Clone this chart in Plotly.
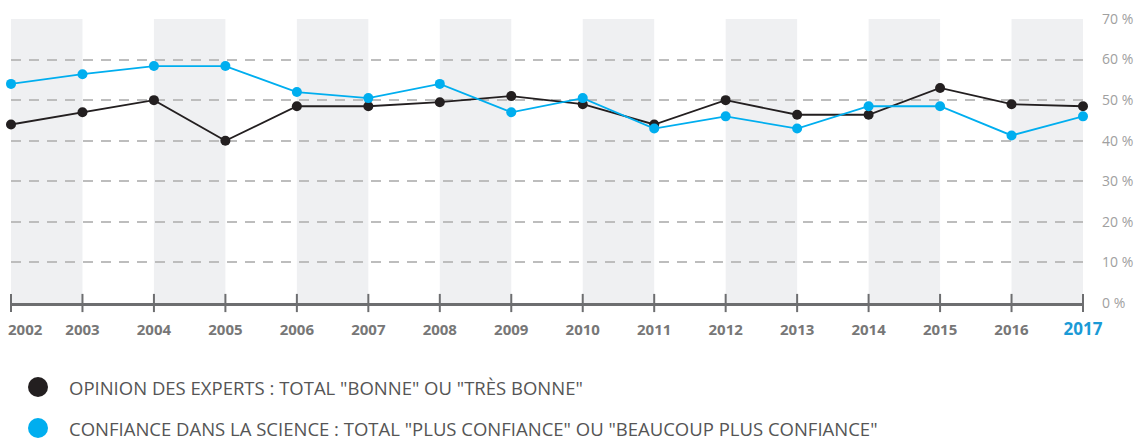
import plotly.graph_objects as go

years = list(range(2002, 2018))
experts = [44, 47, 50, 40, 48.5, 48.5, 49.5, 51, 49, 44, 50, 46.4, 46.4, 53, 49, 48.5]
science = [54, 56.4, 58.4, 58.4, 52, 50.5, 54, 47, 50.5, 43, 46, 43, 48.5, 48.5, 41.3, 46]
name_experts = 'OPINION DES EXPERTS : TOTAL "BONNE" OU "TRÈS BONNE"'
name_science = 'CONFIANCE DANS LA SCIENCE : TOTAL "PLUS CONFIANCE" OU "BEAUCOUP PLUS CONFIANCE"'
ytick_vals = [0, 10, 20, 30, 40, 50, 60, 70]

BLACK = "#231f20"
BLUE = "#00aeef"
FONT = "Open Sans"
L, R, T, B, W, H = 11, 56, 19, 138, 1139, 441
PW, PH = W - L - R, H - T - B

fig = go.Figure()

# shaded bands for even years
for y in years[:-1]:
    if y % 2 == 0:
        fig.add_vrect(x0=y, x1=y + 1, fillcolor="#eff0f2", line_width=0, layer="below",
                      y0=0, y1=1)

# cross ticks on axis
fig.add_trace(go.Scatter(x=years, y=[0] * len(years), mode="markers",
                         marker=dict(symbol="line-ns", size=13, line=dict(width=2, color="#6d6e70")),
                         cliponaxis=False, showlegend=False, hoverinfo="skip"))

fig.add_trace(go.Scatter(x=years, y=experts, mode="lines+markers", name=name_experts,
                         line=dict(color=BLACK, width=1.8), marker=dict(size=10, color=BLACK),
                         cliponaxis=False, showlegend=False))
fig.add_trace(go.Scatter(x=years, y=science, mode="lines+markers", name=name_science,
                         line=dict(color=BLUE, width=1.8), marker=dict(size=10, color=BLUE),
                         cliponaxis=False, showlegend=False))

ticktext = [""] + [str(y) for y in years[1:-1]] + [f"<span style='color:#1a9ad6;font-size:17px'>{years[-1]}</span>"]

fig.update_xaxes(range=[years[0], years[-1]], tickvals=years, ticktext=ticktext,
                 showgrid=False, zeroline=False, showline=True, linecolor="#6d6e70", linewidth=2.5,
                 ticks="", tickfont=dict(family=FONT, size=15, color="#777777", weight="bold"),
                 ticklabelstandoff=11, automargin=False)
# first year label, left aligned so it stays inside the page
fig.add_annotation(text=str(years[0]), x=years[0], xref="x", y=0, yref="y", yanchor="top",
                   xanchor="left", xshift=-5, yshift=-14, showarrow=False,
                   font=dict(family=FONT, size=15, color="#777777", weight="bold"))

fig.update_yaxes(range=[0, 70], side="right", tickvals=ytick_vals,
                 ticktext=[f"{v} %" for v in ytick_vals],
                 showgrid=True, gridcolor="#bdbdbd", gridwidth=1.5, griddash="10px,8px",
                 zeroline=False, showline=False, automargin=False,
                 tickfont=dict(family=FONT, size=14, color="#a0a0a0"), ticklabelstandoff=18)

# custom legend
for i, (nm, col) in enumerate([(name_experts, BLACK), (name_science, BLUE)]):
    yy = 387 + i * 41
    fig.add_shape(type="circle", xref="paper", yref="paper",
                  x0=(28 - L) / PW, x1=(48 - L) / PW,
                  y0=(H - B - yy - 10) / PH, y1=(H - B - yy + 10) / PH,
                  fillcolor=col, line_width=0)
    fig.add_annotation(text=nm, xref="paper", yref="paper", x=(67 - L) / PW,
                       y=(H - B - yy) / PH, xanchor="left", yanchor="middle", showarrow=False,
                       font=dict(family=FONT, size=18.5, color="#555555"))

fig.update_layout(width=W, height=H, margin=dict(l=L, r=R, t=T, b=B),
                  plot_bgcolor="white", paper_bgcolor="white", hovermode=False)

fig.write_html("out.html", config={"displayModeBar": False},
               post_script="document.body.style.margin='0';")
